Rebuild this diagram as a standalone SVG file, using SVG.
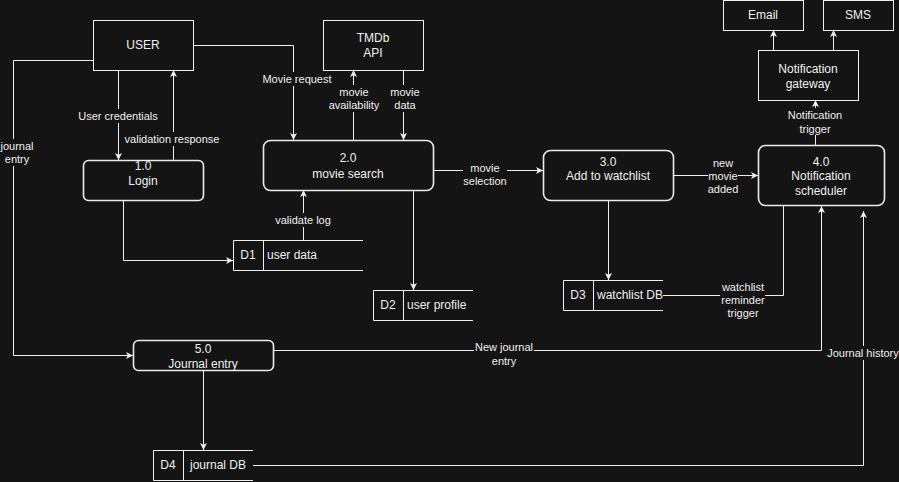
<svg xmlns="http://www.w3.org/2000/svg" width="899" height="482" viewBox="0 0 899 482">
<style>
.bg{fill:#141414}
.box{fill:#141414;stroke:#f0f0f0;stroke-width:1}
.proc{fill:#141414;stroke:#ececec;stroke-width:1.6}
.store{fill:none;stroke:#f0f0f0;stroke-width:1}
.edge{fill:none;stroke:#f0f0f0;stroke-width:1}
.lbg{fill:#141414}
text{font-family:"Liberation Sans",Arial,sans-serif;fill:#f0f0f0;dominant-baseline:central}
.n{font-size:12px;text-anchor:middle}
.s{font-size:12px}
.l{font-size:11px;text-anchor:middle}
</style>
<defs>
<marker id="arr" markerUnits="userSpaceOnUse" markerWidth="10" markerHeight="10" refX="7" refY="3.5" orient="auto">
<path d="M0,0 L7,3.5 L0,7 L1.8,3.5 z" fill="#f0f0f0"/>
</marker>
</defs>
<rect class="bg" x="0" y="0" width="899" height="482"/>

<g id="connectors">
<path class="edge" d="M118.5,70 V160" marker-end="url(#arr)"/>
<path class="edge" d="M173.5,160 V70" marker-end="url(#arr)"/>
<path class="edge" d="M93,60.5 H13.5 V355.5 H133" marker-end="url(#arr)"/>
<path class="edge" d="M193,45.5 H293.5 V140" marker-end="url(#arr)"/>
<path class="edge" d="M353.5,140 V70" marker-end="url(#arr)"/>
<path class="edge" d="M403.5,70 V140" marker-end="url(#arr)"/>
<path class="edge" d="M123.5,200 V260.5 H233" marker-end="url(#arr)"/>
<path class="edge" d="M303.5,240 V190" marker-end="url(#arr)"/>
<path class="edge" d="M413.5,190 V290" marker-end="url(#arr)"/>
<path class="edge" d="M433,170.5 H543" marker-end="url(#arr)"/>
<path class="edge" d="M673,175.5 H758" marker-end="url(#arr)"/>
<path class="edge" d="M608.5,200 V280" marker-end="url(#arr)"/>
<path class="edge" d="M663,295.5 H783.5 V205"/>
<path class="edge" d="M815.5,145 V100" marker-end="url(#arr)"/>
<path class="edge" d="M773.5,50 V30" marker-end="url(#arr)"/>
<path class="edge" d="M833.5,50 V30" marker-end="url(#arr)"/>
<path class="edge" d="M273,350.5 H821.5 V206" marker-end="url(#arr)"/>
<path class="edge" d="M203.5,370 V450" marker-end="url(#arr)"/>
<path class="edge" d="M253,465.5 H863.5 V211" marker-end="url(#arr)"/>

<rect class="lbg" x="78" y="109" width="80" height="14"/>
<text class="l" x="118" y="116">User credentials</text>
<rect class="lbg" x="124" y="132" width="96" height="14"/>
<text class="l" x="172" y="139">validation response</text>
<rect class="lbg" x="0" y="139" width="34" height="27"/>
<text class="l" x="17" y="146">journal</text>
<text class="l" x="17" y="159">entry</text>
<rect class="lbg" x="262" y="72" width="70" height="14"/>
<text class="l" x="297" y="79">Movie request</text>
<rect class="lbg" x="324" y="85" width="60" height="27"/>
<text class="l" x="354" y="92">movie</text>
<text class="l" x="354" y="105">availability</text>
<rect class="lbg" x="390" y="85" width="30" height="27"/>
<text class="l" x="405" y="92">movie</text>
<text class="l" x="405" y="105">data</text>
<rect class="lbg" x="274" y="213" width="59" height="14"/>
<text class="l" x="303" y="220">validate log</text>
<rect class="lbg" x="463" y="161" width="44" height="27"/>
<text class="l" x="485" y="168">movie</text>
<text class="l" x="485" y="181">selection</text>
<rect class="lbg" x="708" y="156" width="30" height="40"/>
<text class="l" x="723" y="163">new</text>
<text class="l" x="723" y="176">movie</text>
<text class="l" x="723" y="189">added</text>
<rect class="lbg" x="787" y="108" width="57" height="27"/>
<text class="l" x="815" y="115">Notification</text>
<text class="l" x="815" y="129">trigger</text>
<rect class="lbg" x="720" y="280" width="45" height="40"/>
<text class="l" x="743" y="287">watchlist</text>
<text class="l" x="743" y="300">reminder</text>
<text class="l" x="743" y="313">trigger</text>
<rect class="lbg" x="474" y="340" width="60" height="28"/>
<text class="l" x="504" y="347">New journal</text>
<text class="l" x="504" y="361">entry</text>
<rect class="lbg" x="826" y="346" width="73" height="14"/>
<text class="l" x="863" y="353">Journal history</text>
</g>

<g id="user">
<rect class="box" x="93.5" y="20.5" width="100" height="50"/>
<text class="n" x="143" y="45">USER</text>
</g>
<g id="tmdb">
<rect class="box" x="323.5" y="20.5" width="100" height="50"/>
<text class="n" x="373" y="38">TMDb</text>
<text class="n" x="373" y="53">API</text>
</g>
<g id="email">
<rect class="box" x="723.5" y="0.5" width="80" height="30"/>
<text class="n" x="763" y="15">Email</text>
</g>
<g id="sms">
<rect class="box" x="823.5" y="0.5" width="70" height="30"/>
<text class="n" x="858" y="15">SMS</text>
</g>
<g id="gateway">
<rect class="box" x="758.5" y="50.5" width="100" height="50"/>
<text class="n" x="808" y="69">Notification</text>
<text class="n" x="808" y="84">gateway</text>
</g>
<g id="p1">
<rect class="proc" x="83.5" y="160.5" width="120" height="40" rx="5"/>
<text class="n" x="143" y="166">1.0</text>
<text class="n" x="143" y="181">Login</text>
</g>
<g id="p2">
<rect class="proc" x="263.5" y="140.5" width="170" height="50" rx="7"/>
<text class="n" x="348" y="158">2.0</text>
<text class="n" x="348" y="174">movie search</text>
</g>
<g id="p3">
<rect class="proc" x="543.5" y="150.5" width="130" height="50" rx="7"/>
<text class="n" x="608" y="162">3.0</text>
<text class="n" x="608" y="176">Add to watchlist</text>
</g>
<g id="p4">
<rect class="proc" x="758.5" y="145.5" width="126" height="60" rx="7"/>
<text class="n" x="821" y="162">4.0</text>
<text class="n" x="821" y="176">Notification</text>
<text class="n" x="821" y="191">scheduler</text>
</g>
<g id="p5">
<rect class="proc" x="133.5" y="340.5" width="140" height="30" rx="5"/>
<text class="n" x="203" y="349">5.0</text>
<text class="n" x="203" y="364">Journal entry</text>
</g>
<g id="d1">
<path class="store" d="M363,240.5 H233.5 V270.5 H363 M263.5,240 V270"/>
<text class="n" x="248" y="255">D1</text>
<text class="s" x="267" y="255">user data</text>
</g>
<g id="d2">
<path class="store" d="M473,290.5 H373.5 V320.5 H473 M403.5,290 V320"/>
<text class="n" x="388" y="305">D2</text>
<text class="s" x="407" y="305">user profile</text>
</g>
<g id="d3">
<path class="store" d="M663,280.5 H563.5 V310.5 H663 M593.5,280 V310"/>
<text class="n" x="578" y="295">D3</text>
<text class="s" x="597" y="295">watchlist DB</text>
</g>
<g id="d4">
<path class="store" d="M253,450.5 H153.5 V480.5 H253 M183.5,450 V480"/>
<text class="n" x="168" y="465">D4</text>
<text class="s" x="190" y="465">journal DB</text>
</g>
</svg>
